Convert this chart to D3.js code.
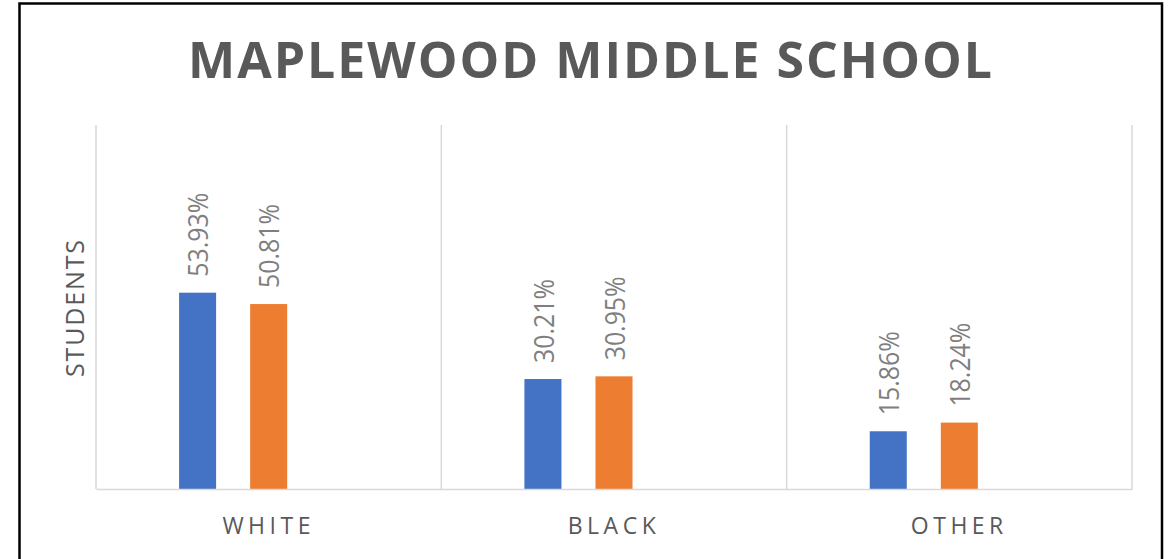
<!DOCTYPE html>
<html><head><meta charset="utf-8">
<script src="https://cdn.jsdelivr.net/npm/d3@7"></script>
<style>
html,body{margin:0;padding:0;background:#fff;}
svg{display:block;}
</style></head>
<body>
<svg id="chart" width="1175" height="559"></svg>
<script>
const title = "MAPLEWOOD MIDDLE SCHOOL";
const yAxisLabel = "STUDENTS";
const categories = ["WHITE", "BLACK", "OTHER"];
const seriesNames = ["Series 1", "Series 2", "Series 3"];
const series1 = [53.93, 30.21, 15.86];
const series2 = [50.81, 30.95, 18.24];
const series3 = [null, null, null];
const colors = ["#4472C4", "#ED7D31", "#A5A5A5"];
const yMax = 100;

const svg = d3.select("#chart");

// outer frame
svg.append("rect").attr("x", 19.5).attr("y", 3.5).attr("width", 1142.5).attr("height", 600)
  .attr("fill", "none").attr("stroke", "#000").attr("stroke-width", 2.5);

const plot = {left: 96, right: 1132, top: 125, bottom: 489};

const x0 = d3.scaleBand().domain(categories).range([plot.left, plot.right]).paddingInner(0).paddingOuter(0);
const x1 = d3.scaleBand().domain(seriesNames).range([0, x0.bandwidth()]).paddingInner(0.479).paddingOuter(1.169);
const y = d3.scaleLinear().domain([0, yMax]).range([plot.bottom, plot.top]);

// vertical gridlines (category separators)
const sepXs = categories.map(c => x0(c)).concat([plot.right]);
svg.append("g").selectAll("line").data(sepXs).join("line")
  .attr("x1", d => d).attr("x2", d => d).attr("y1", plot.top).attr("y2", plot.bottom)
  .attr("stroke", "#d9d9d9").attr("stroke-width", 1.5);

// bars
const allSeries = [series1, series2, series3];
const rows = [];
categories.forEach((c, i) => {
  seriesNames.forEach((s, j) => {
    const v = allSeries[j][i];
    if (v != null) rows.push({cat: c, ser: s, v: v, color: colors[j]});
  });
});

svg.append("g").selectAll("rect").data(rows).join("rect")
  .attr("x", d => x0(d.cat) + x1(d.ser))
  .attr("width", x1.bandwidth())
  .attr("y", d => y(d.v))
  .attr("height", d => y(0) - y(d.v))
  .attr("fill", d => d.color);

// baseline axis
const xAxis = d3.axisBottom(x0).tickSize(0).tickPadding(0).tickFormat("");
const ax = svg.append("g").attr("transform", `translate(0,${plot.bottom})`).call(xAxis);
ax.select(".domain").attr("stroke", "#d9d9d9").attr("stroke-width", 1.5);

// category labels
svg.append("g").selectAll("text").data(categories).join("text")
  .attr("x", d => x0(d) + x0.bandwidth() / 2)
  .attr("y", 534)
  .attr("text-anchor", "middle")
  .attr("font-family", "'Open Sans', sans-serif")
  .attr("font-size", 23)
  .attr("fill", "#595959")
  .attr("letter-spacing", 4.5)
  .text(d => d);

// data labels
svg.append("g").selectAll("text").data(rows).join("text")
  .attr("transform", d => `translate(${x0(d.cat) + x1(d.ser) + x1.bandwidth() / 2 + 1},${y(d.v) - 16}) rotate(-90)`)
  .attr("text-anchor", "start")
  .attr("dy", "0.36em")
  .attr("font-family", "'Open Sans', sans-serif")
  .attr("font-size", 27)
  .attr("fill", "#7f7f7f")
  .attr("textLength", 84).attr("lengthAdjust", "spacingAndGlyphs")
  .text(d => d.v.toFixed(2) + "%");

// y axis title
svg.append("text")
  .attr("transform", `translate(75,${(240 + 377) / 2}) rotate(-90)`)
  .attr("text-anchor", "middle")
  .attr("dy", "0.35em")
  .attr("font-family", "'Open Sans', sans-serif")
  .attr("font-size", 25)
  .attr("fill", "#595959")
  .attr("textLength", 137).attr("lengthAdjust", "spacing")
  .text(yAxisLabel);

// chart title
svg.append("text")
  .attr("x", 590).attr("y", 78)
  .attr("text-anchor", "middle")
  .attr("font-family", "'Open Sans', sans-serif")
  .attr("font-weight", "bold")
  .attr("font-size", 50)
  .attr("fill", "#595959")
  .attr("textLength", 804).attr("lengthAdjust", "spacing")
  .text(title);
</script>
</body></html>
